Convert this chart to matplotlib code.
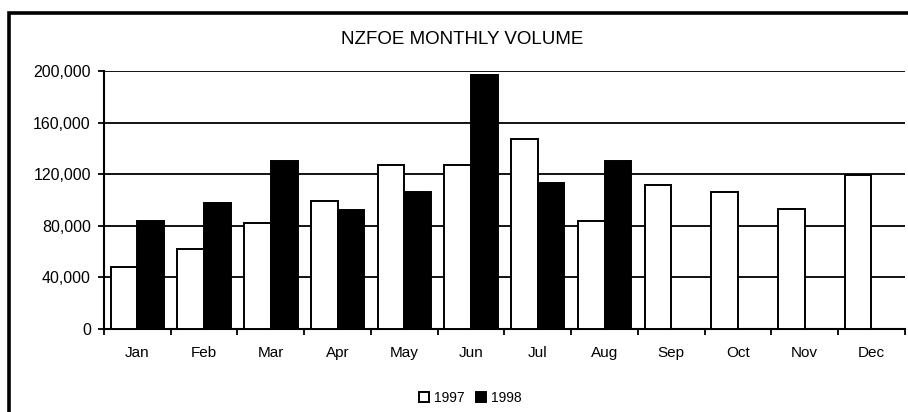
import matplotlib.pyplot as plt
from matplotlib.patches import Rectangle
from matplotlib.ticker import FuncFormatter

plt.rcParams['font.family'] = ['Liberation Sans', 'DejaVu Sans']

# NZFOE monthly volume
months = ['Jan', 'Feb', 'Mar', 'Apr', 'May', 'Jun', 'Jul', 'Aug', 'Sep', 'Oct', 'Nov', 'Dec']
vol_1997 = [48000, 62000, 82000, 99000, 127000, 127000, 147000, 84000, 112000, 106000, 93000, 119000]
vol_1998 = [84000, 98000, 130000, 92000, 106000, 197000, 113000, 130000]
yticks = [0, 40000, 80000, 120000, 160000, 200000]

fig = plt.figure(figsize=(9.08, 4.12), dpi=100)
ax = fig.add_axes([0.1145, 0.2015, 0.882, 0.6262])

w = 0.4
x97 = [i - w / 2 for i in range(len(vol_1997))]
x98 = [i + w / 2 for i in range(len(vol_1998))]
ax.bar(x97, vol_1997, width=w, color='white', edgecolor='black', linewidth=1.4, label='1997', zorder=3)
ax.bar(x98, vol_1998, width=w, color='black', edgecolor='black', linewidth=1.4, label='1998', zorder=3)

ax.set_xlim(-0.5, len(months) - 0.5)
ax.set_ylim(0, 200000)
ax.set_yticks(yticks)
ax.yaxis.set_major_formatter(FuncFormatter(lambda v, p: f'{int(v):,}'))
ax.grid(axis='y', color='black', linewidth=1.3)
ax.set_axisbelow(True)

# tick marks at category boundaries, labels at centres
ax.set_xticks([i - 0.5 for i in range(len(months) + 1)])
ax.set_xticklabels([])
ax.set_xticks(range(len(months)), minor=True)
ax.set_xticklabels(months, minor=True)
ax.tick_params(axis='x', which='major', direction='out', length=4, width=1.3)
ax.tick_params(axis='x', which='minor', length=0, pad=12, labelsize=11)
ax.tick_params(axis='y', direction='out', length=4.5, width=1.3, pad=5, labelsize=11.5)

for s in ['top', 'right']:
    ax.spines[s].set_visible(False)
for s in ['left', 'bottom']:
    ax.spines[s].set_linewidth(1.5)

fig.text(0.509, 0.903, 'NZFOE MONTHLY VOLUME', ha='center', va='center', fontsize=13.5)

fig.legend(loc='center', bbox_to_anchor=(0.518, 0.034), ncol=2, frameon=False,
           fontsize=10, handlelength=0.7, handleheight=0.7, handletextpad=0.4,
           columnspacing=0.8)

# outer chart frame, running off the right and bottom of the image
fig.add_artist(Rectangle((9 / 908, -0.1), 1.2, 1 - 12.5 / 412 + 0.1,
                         transform=fig.transFigure, fill=False,
                         edgecolor='black', linewidth=2.6, clip_on=False))

plt.savefig('out.png', dpi=100)
